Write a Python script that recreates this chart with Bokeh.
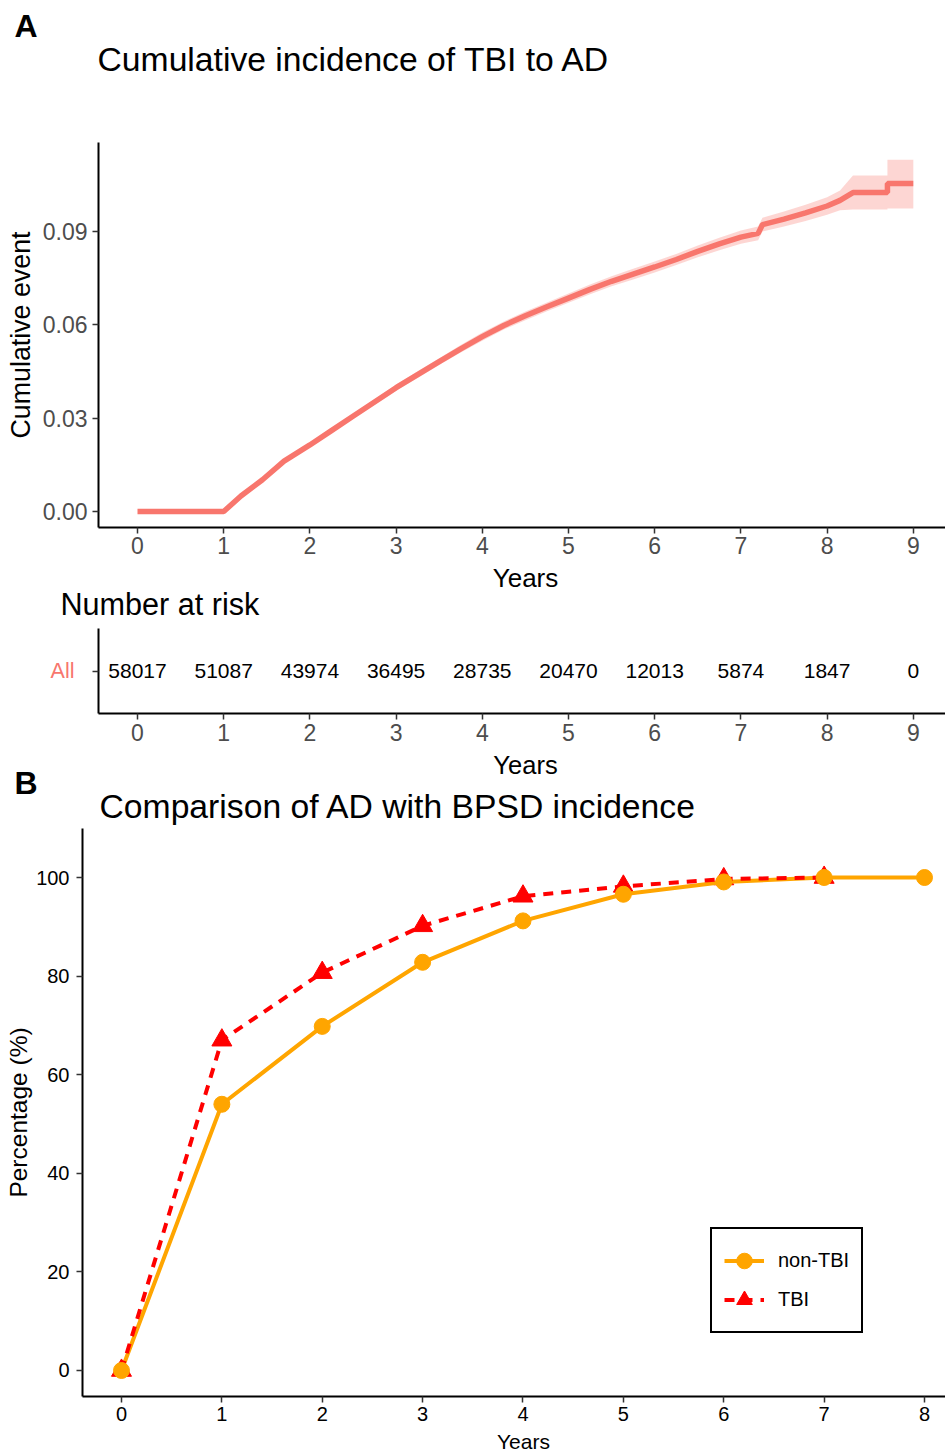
from bokeh.plotting import figure
from bokeh.models import Range1d, FixedTicker, Legend, LegendItem, NumeralTickFormatter, Grid
from bokeh.layouts import column
from bokeh.embed import file_html
from bokeh.resources import INLINE
from bokeh.core.properties import value

FONT = "Liberation Sans"

# ---------------- Panel A data (cumulative incidence) ----------------
a_time = [0, 1.0, 1.2, 1.45, 1.7, 2.0, 2.25, 2.5, 2.75, 3.0, 3.25, 3.5, 3.75, 4.0, 4.25,
          4.5, 4.75, 5.0, 5.25, 5.5, 5.75, 6.0, 6.25, 6.5, 6.75, 7.0, 7.2, 7.25, 7.5,
          7.75, 8.0, 8.15, 8.3, 8.7, 8.7, 9.0]
a_cum = [0, 0, 0.0050, 0.0102, 0.0162, 0.0214, 0.0260, 0.0306, 0.0352, 0.0398, 0.0440,
         0.0482, 0.0523, 0.0562, 0.0598, 0.0629, 0.0658, 0.0686, 0.0714, 0.0740, 0.0763,
         0.0786, 0.0810, 0.0836, 0.0860, 0.0882, 0.0894, 0.0922, 0.0940, 0.0960, 0.0982,
         0.1000, 0.1025, 0.1025, 0.1054, 0.1054]
a_lower = [0, 0, 0.0046, 0.0097, 0.0156, 0.0207, 0.0252, 0.0298, 0.0343, 0.0388, 0.0429,
           0.0471, 0.0511, 0.0549, 0.0585, 0.0615, 0.0644, 0.0671, 0.0698, 0.0724, 0.0746,
           0.0768, 0.0792, 0.0817, 0.0840, 0.0861, 0.0872, 0.0900, 0.0916, 0.0934, 0.0954,
           0.0968, 0.0971, 0.0971, 0.0974, 0.0974]
a_upper = [0, 0, 0.0054, 0.0107, 0.0168, 0.0221, 0.0268, 0.0314, 0.0361, 0.0408, 0.0451,
           0.0493, 0.0535, 0.0575, 0.0611, 0.0643, 0.0672, 0.0701, 0.0730, 0.0756, 0.0780,
           0.0804, 0.0828, 0.0855, 0.0880, 0.0903, 0.0916, 0.0944, 0.0964, 0.0986, 0.1010,
           0.1032, 0.1080, 0.1080, 0.1131, 0.1131]
a_x_ticks = [0, 1, 2, 3, 4, 5, 6, 7, 8, 9]
a_y_ticks = [0, 0.03, 0.06, 0.09]

# ---------------- Number at risk ----------------
risk_times = [0, 1, 2, 3, 4, 5, 6, 7, 8, 9]
risk_counts = [58017, 51087, 43974, 36495, 28735, 20470, 12013, 5874, 1847, 0]
risk_group = "All"

# ---------------- Panel B data ----------------
b_years = [0, 1, 2, 3, 4, 5, 6, 7, 8]
b_non_tbi = [0, 54.0, 69.8, 82.8, 91.2, 96.6, 99.1, 100.0, 100.0]
b_tbi_years = [0, 1, 2, 3, 4, 5, 6, 7]
b_tbi = [0, 67.0, 80.7, 90.2, 96.2, 98.2, 99.7, 100.0]
b_x_ticks = [0, 1, 2, 3, 4, 5, 6, 7, 8]
b_y_ticks = [0, 20, 40, 60, 80, 100]

SALMON = "#F8766D"
W = 945


def base_style(p, tick_color, tick_size):
    p.outline_line_color = None
    p.xgrid.visible = False
    p.ygrid.visible = False
    p.background_fill_color = "white"
    p.border_fill_color = "white"
    for ax in (p.xaxis, p.yaxis):
        ax.axis_line_color = "black"
        ax.axis_line_width = 2
        ax.major_tick_line_color = "#333333"
        ax.major_tick_line_width = 1.5
        ax.major_tick_out = 6
        ax.major_tick_in = 0
        ax.minor_tick_line_color = None
        ax.major_label_text_font = FONT
        ax.major_label_text_font_size = tick_size
        ax.major_label_text_color = tick_color
        ax.axis_label_text_font = FONT
        ax.axis_label_text_font_style = "normal"
        ax.axis_label_text_color = "black"


def band(top, bottom):
    """A text strip whose frame fills its whole canvas; y data = page pixel row."""
    p = figure(width=W, height=bottom - top, output_backend="svg", toolbar_location=None,
               x_range=Range1d(0, W), y_range=Range1d(bottom, top),
               x_axis_location=None, y_axis_location=None, min_border=0, frame_align=False)
    p.center = [r for r in p.center if not isinstance(r, Grid)]
    p.outline_line_color = None
    p.background_fill_color = "white"
    p.border_fill_color = "white"
    return p


def btext(p, x, y, s, size, bold=False, align="left"):
    # y is the visual middle of the capital letters
    p.text(x=[x], y=[y], text=[s], text_font=value(FONT), text_font_size=value(f"{size}px"),
           text_font_style="bold" if bold else "normal", text_align=align,
           text_baseline="middle", text_color="black")


# ================= Header A =================
hdrA = band(0, 130)
btext(hdrA, 14, 25.5, "A", 32, bold=True)
btext(hdrA, 97, 58, "Cumulative incidence of TBI to AD", 33.7)

# ================= Panel A =================
pA = figure(width=W, height=563 - 130, output_backend="svg", toolbar_location=None,
            frame_align=False,
            x_range=Range1d(-0.4524, 9.3735), y_range=Range1d(-0.00514, 0.11861),
            min_border_left=98, min_border_right=0, min_border_top=12, min_border_bottom=36)
base_style(pA, "#4D4D4D", "23px")
pA.xaxis.ticker = FixedTicker(ticks=a_x_ticks)
pA.yaxis.ticker = FixedTicker(ticks=a_y_ticks)
pA.yaxis.formatter = NumeralTickFormatter(format="0.00")
pA.xaxis.major_label_standoff = 3
pA.yaxis.major_label_standoff = 5
pA.yaxis.axis_label = "Cumulative event"
pA.yaxis.axis_label_text_font_size = "26.8px"
pA.yaxis.axis_label_standoff = 4

pA.varea(x=a_time, y1=a_lower, y2=a_upper, fill_color=SALMON, fill_alpha=0.3)
pA.line(a_time, a_cum, line_color=SALMON, line_width=5.5)

# ================= Strip: A x title + risk title =================
band2 = band(563, 624)
btext(band2, 525, 577.5, "Years", 26, align="center")
btext(band2, 60, 603.5, "Number at risk", 30.6)

# ================= Risk table =================
pT = figure(width=W, height=750 - 624, output_backend="svg", toolbar_location=None,
            frame_align=False,
            x_range=Range1d(-0.4524, 9.3735), y_range=Range1d(0.4, 1.6),
            min_border_left=98, min_border_right=0, min_border_top=4, min_border_bottom=37)
base_style(pT, "#4D4D4D", "23px")
pT.xaxis.ticker = FixedTicker(ticks=risk_times)
pT.yaxis.ticker = FixedTicker(ticks=[1])
pT.yaxis.major_label_overrides = {1: risk_group}
pT.yaxis.major_label_text_color = SALMON
pT.yaxis.major_label_text_font_size = "21.5px"
pT.yaxis.major_label_standoff = 18
pT.xaxis.major_label_standoff = 4
pT.text(x=risk_times, y=[1] * len(risk_times), text=[str(c) for c in risk_counts],
        text_font=value(FONT), text_font_size=value("21px"), text_align="center",
        text_baseline="middle", text_color="black")

# ================= Strip: table x title + header B =================
band3 = band(750, 826)
btext(band3, 525, 764.5, "Years", 25.5, align="center")
btext(band3, 14, 782.5, "B", 32, bold=True)
btext(band3, 99, 805, "Comparison of AD with BPSD incidence", 33.7)

# ================= Panel B =================
pB = figure(width=W, height=1429 - 826, output_backend="svg", toolbar_location=None,
            frame_align=False,
            x_range=Range1d(-0.3885, 8.2092), y_range=Range1d(-5.274, 109.94),
            min_border_left=82, min_border_right=0, min_border_top=2, min_border_bottom=33)
base_style(pB, "black", "20px")
pB.xaxis.ticker = FixedTicker(ticks=b_x_ticks)
pB.yaxis.ticker = FixedTicker(ticks=b_y_ticks)
pB.xaxis.major_label_standoff = 4
pB.yaxis.major_label_standoff = 7
pB.yaxis.axis_label = "Percentage (%)"
pB.yaxis.axis_label_text_font_size = "24.5px"
pB.yaxis.axis_label_standoff = 1

r_tbi_pts = pB.scatter(b_tbi_years, b_tbi, marker="triangle", size=20, color="red")
r_non_line = pB.line(b_years, b_non_tbi, line_color="orange", line_width=4)
r_tbi_line = pB.line(b_tbi_years, b_tbi, line_color="red", line_width=4, line_dash="10 8")
r_non_pts = pB.scatter(b_years, b_non_tbi, marker="circle", size=16, color="orange")

legend = Legend(items=[LegendItem(label="non-TBI", renderers=[r_non_line, r_non_pts]),
                       LegendItem(label="TBI", renderers=[r_tbi_line, r_tbi_pts])],
                location=(628, 63), orientation="vertical")
legend.border_line_color = "black"
legend.border_line_alpha = 1.0
legend.border_line_width = 2
legend.background_fill_color = "white"
legend.background_fill_alpha = 1
legend.label_text_font = FONT
legend.label_text_font_size = "20px"
legend.label_text_color = "black"
legend.glyph_width = 40
legend.glyph_height = 39
legend.spacing = 0
legend.padding = 12
legend.label_standoff = 14
legend.margin = 0
pB.add_layout(legend)

# ================= Strip: B x title =================
band4 = band(1429, 1453)
btext(band4, 523, 1441, "Years", 21, align="center")

layout = column(hdrA, pA, band2, pT, band3, pB, band4, spacing=0)
open("out.html", "w").write(file_html(layout, INLINE))
